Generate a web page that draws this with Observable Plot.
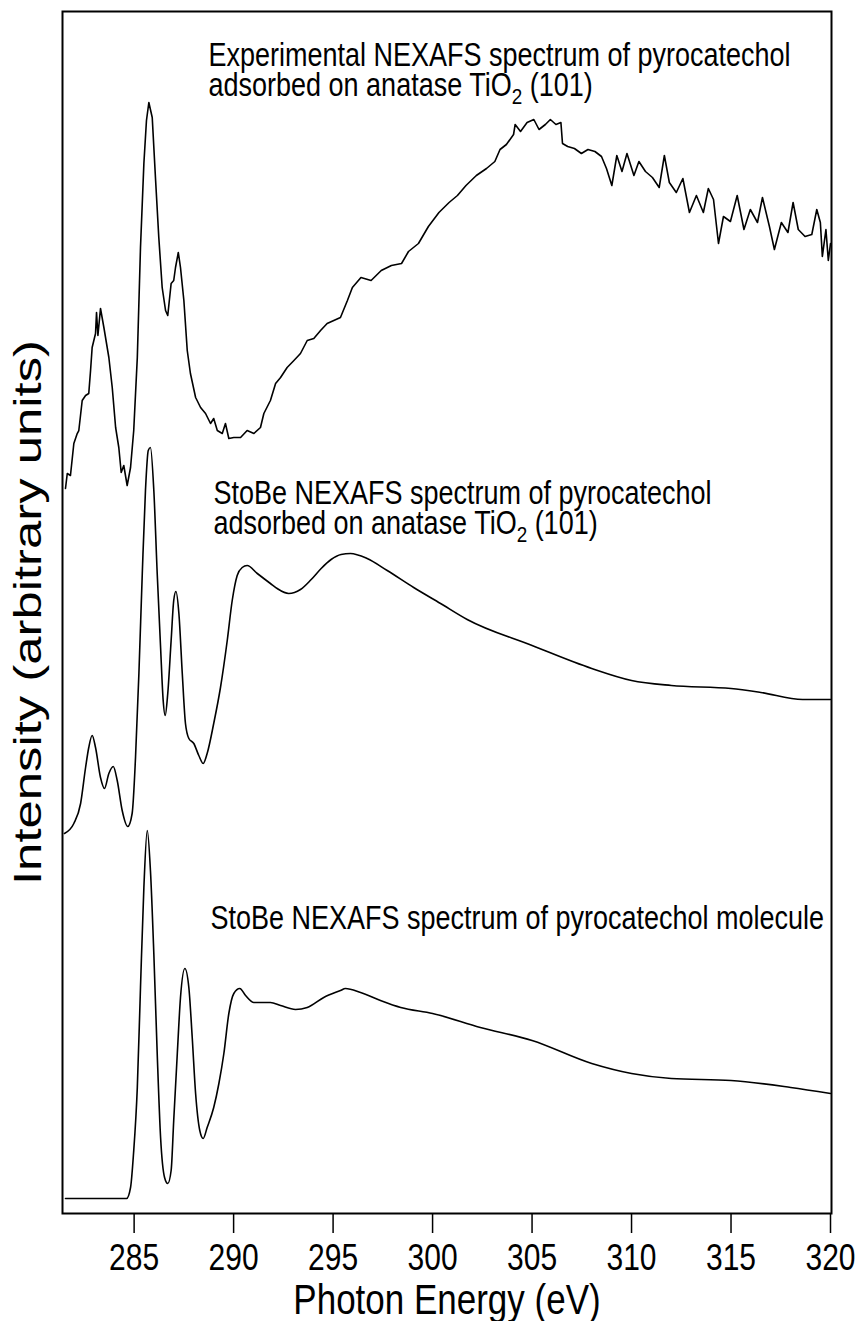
<!DOCTYPE html>
<html>
<head>
<meta charset="utf-8">
<script src="https://cdn.jsdelivr.net/npm/d3@7"></script>
<script src="https://cdn.jsdelivr.net/npm/@observablehq/plot@0.6"></script>
<style>
  html, body { margin: 0; padding: 0; background: #fff; }
</style>
</head>
<body>
<div id="chart"></div>
<script>
// ---- Data (photon energy in eV, intensity in arbitrary units, offset per spectrum) ----
const expEnergy = [281.55,281.64,281.80,281.97,282.14,282.22,282.39,282.56,282.72,282.81,282.89,283.06,283.11,283.18,283.31,283.48,283.73,283.90,284.07,284.23,284.35,284.48,284.65,284.82,284.98,285.16,285.32,285.49,285.62,285.74,285.91,286.08,286.24,286.41,286.58,286.69,286.86,286.99,287.08,287.22,287.33,287.50,287.67,287.83,288.09,288.34,288.59,288.84,289.00,289.18,289.43,289.59,289.76,290.01,290.35,290.68,291.02,291.35,291.52,291.85,292.11,292.36,292.69,293.03,293.36,293.70,294.03,294.37,294.70,295.37,295.72,295.97,296.40,296.91,297.42,297.93,298.44,298.79,299.29,299.79,300.32,300.83,301.25,301.68,302.20,302.71,303.13,303.39,303.71,304.07,304.15,304.42,304.75,305.09,305.35,305.67,305.92,306.20,306.45,306.53,306.79,307.13,307.48,307.81,308.16,308.49,308.74,309.01,309.26,309.52,309.77,310.12,310.37,310.70,311.05,311.39,311.65,311.90,312.25,312.58,312.91,313.26,313.61,313.86,314.12,314.37,314.62,314.97,315.31,315.65,315.97,316.33,316.58,316.93,317.18,317.53,317.86,318.12,318.38,318.72,319.06,319.31,319.49,319.59,319.77,319.89,320.00];
const expIntensity = [72.5,74.0,73.8,77.0,78.0,78.3,81.3,81.8,82.0,84.3,86.6,88.0,90.1,87.8,90.5,88.6,85.6,82.6,78.6,76.6,74.1,74.8,72.8,74.6,78.3,85.6,96.6,105.0,109.3,111.1,109.6,103.3,97.6,92.6,90.3,89.8,93.0,93.3,94.6,96.1,94.6,91.3,86.3,84.0,81.6,80.6,80.0,79.0,79.5,78.3,78.0,79.0,77.5,77.6,77.6,78.3,78.0,78.6,80.0,81.3,83.0,83.6,84.6,85.3,86.0,87.3,87.5,88.3,89.0,89.6,91.3,92.6,93.6,93.3,94.3,94.8,95.0,96.2,97.0,98.7,100.1,101.1,101.8,102.8,103.8,104.5,105.2,106.4,106.9,107.9,108.9,108.2,109.1,109.4,108.4,108.9,109.4,108.9,109.1,107.0,106.7,106.5,106.0,106.4,106.2,105.7,104.5,102.8,105.8,104.2,106.0,103.8,105.2,104.2,103.6,102.6,105.8,103.1,102.1,103.5,100.1,101.8,100.1,102.5,101.4,97.0,99.7,99.2,101.8,98.4,100.4,99.1,101.6,98.7,96.4,99.1,98.1,101.1,98.4,97.7,97.9,100.4,99.1,95.7,98.4,95.3,97.0];

const surfEnergy = [281.50,281.97,282.31,282.56,282.72,282.89,283.06,283.31,283.51,283.73,283.95,284.15,284.40,284.68,284.90,285.07,285.24,285.41,285.57,285.71,285.82,285.99,286.16,286.33,286.46,286.56,286.69,286.86,286.99,287.10,287.25,287.42,287.58,287.75,288.00,288.25,288.47,288.67,289.00,289.34,289.68,289.93,290.18,290.43,290.68,291.19,291.85,292.19,292.77,293.36,293.90,294.40,294.90,295.40,295.87,296.71,297.72,299.05,300.40,301.74,305.00,308.00,310.00,312.00,315.00,316.50,318.60,320.00];
const surfIntensity = [38.0,39.0,41.0,44.6,46.6,47.8,46.6,43.6,42.5,44.0,44.7,43.3,40.3,38.7,40.0,45.6,54.0,64.0,72.3,76.3,76.6,72.3,64.0,56.6,51.3,49.8,52.0,57.3,61.3,62.2,60.0,54.0,49.0,47.5,47.0,45.8,45.0,46.0,49.0,52.6,57.3,61.3,63.8,64.6,64.8,64.0,63.0,62.5,62.0,62.4,63.4,64.5,65.4,65.9,66.0,65.5,64.3,62.6,61.0,59.4,56.8,54.5,53.3,52.8,52.5,52.1,51.4,51.4];

const molEnergy = [281.55,284.62,284.82,284.97,285.16,285.32,285.49,285.66,285.82,285.99,286.16,286.33,286.53,286.69,286.86,286.99,287.17,287.33,287.55,287.75,287.92,288.09,288.30,288.47,288.67,289.00,289.26,289.51,289.76,290.01,290.31,290.60,291.02,291.85,292.36,293.11,293.70,294.53,295.37,295.62,296.38,297.38,298.40,300.00,302.40,305.00,308.00,310.00,312.00,315.00,318.00,320.00];
const molIntensity = [1.5,1.5,2.6,6.0,12.6,22.6,32.6,38.3,34.3,26.0,16.0,7.6,3.6,3.0,4.3,9.3,16.0,21.6,24.5,22.6,17.6,12.0,8.3,7.5,8.6,10.6,13.0,16.0,20.0,22.0,22.5,21.8,21.1,21.1,20.8,20.4,20.6,21.6,22.3,22.5,22.1,21.3,20.6,20.0,18.6,17.3,15.0,14.0,13.5,13.3,12.6,12.0];

const xTicks = [285, 290, 295, 300, 305, 310, 315, 320];

// annotations (one per spectrum), with anchor energy / intensity of the last line
const labelText = [
  "Experimental NEXAFS spectrum of pyrocatechol\nadsorbed on anatase TiO_2 (101)",
  "StoBe NEXAFS spectrum of pyrocatechol\nadsorbed on anatase TiO_2 (101)",
  "StoBe NEXAFS spectrum of pyrocatechol molecule"
];
const labelEnergy = [288.74, 288.99, 288.84];
const labelIntensity = [111.8, 68.0, 28.5];

const xLabel = "Photon Energy (eV)";
const yLabel = "Intensity (arbitrary units)";

// ---- build tables ----
const toRows = (es, is) => es.map((e, k) => ({e, i: is[k]}));
const expRows = toRows(expEnergy, expIntensity);
const surfRows = toRows(surfEnergy, surfIntensity);
const molRows = toRows(molEnergy, molIntensity);
const labels = labelText.map((t, k) => ({t, e: labelEnergy[k], i: labelIntensity[k]}));

const font = "'Liberation Sans', Arial, Helvetica, sans-serif";
const stretch = 1.2;

const chart = Plot.plot({
  width: 861,
  height: 1321,
  marginLeft: 62,
  marginRight: 30,
  marginTop: 11,
  marginBottom: 108,
  style: {fontFamily: font, background: "white", color: "black"},
  x: {domain: [281.4, 320.05]},
  y: {domain: [0, 120.2], axis: null},
  marks: [
    Plot.frame({stroke: "black", strokeWidth: 2}),
    Plot.axisX({ticks: xTicks, tickSize: 20, tickPadding: 11, fontSize: 30, strokeWidth: 1.5, tickFormat: d => String(d), label: null}),
    Plot.line(expRows, {x: "e", y: "i", stroke: "black", strokeWidth: 1.6}),
    Plot.line(surfRows, {x: "e", y: "i", stroke: "black", strokeWidth: 1.6, curve: "monotone-x"}),
    Plot.line(molRows, {x: "e", y: "i", stroke: "black", strokeWidth: 1.6, curve: "monotone-x"}),
    Plot.text(labels, {x: "e", y: "i", text: "t", textAnchor: "start", lineAnchor: "bottom", lineHeight: 30 / (27 * stretch), fontSize: 27, fill: "black"}),
    Plot.text([xLabel], {frameAnchor: "bottom", dy: 100, lineAnchor: "bottom", textAnchor: "middle", fontSize: 35, fill: "black"}),
    Plot.text([yLabel], {frameAnchor: "left", rotate: -90, dx: -34, textAnchor: "middle", lineAnchor: "middle", fontSize: 38, fill: "black"})
  ]
});

document.getElementById("chart").appendChild(chart);

// subscript for TiO2 (works on text or tspan leaf nodes)
d3.select(chart).selectAll("text, tspan").each(function() {
  const el = this;
  if (el.children.length === 0 && el.textContent.includes("TiO_2")) {
    const [a, b] = el.textContent.split("_2");
    el.textContent = "";
    const s = d3.select(el);
    s.append("tspan").text(a);
    s.append("tspan").attr("dy", 7).attr("font-size", "0.7em").text("2");
    s.append("tspan").attr("dy", -7).text(b);
  }
});

// the reference lettering is tall and narrow: stretch texts along the vertical
d3.select(chart).selectAll("text").each(function() {
  const el = this;
  if (el.textContent === yLabel) {
    el.setAttribute("textLength", 545);
    el.setAttribute("lengthAdjust", "spacingAndGlyphs");
    return;
  }
  let tr = el.getAttribute("transform");
  if (!tr) {
    const x = +el.getAttribute("x") || 0, y = +el.getAttribute("y") || 0;
    el.removeAttribute("x"); el.removeAttribute("y");
    tr = `translate(${x},${y})`;
  }
  el.setAttribute("transform", tr + ` scale(1,${stretch})`);
});
</script>
</body>
</html>
